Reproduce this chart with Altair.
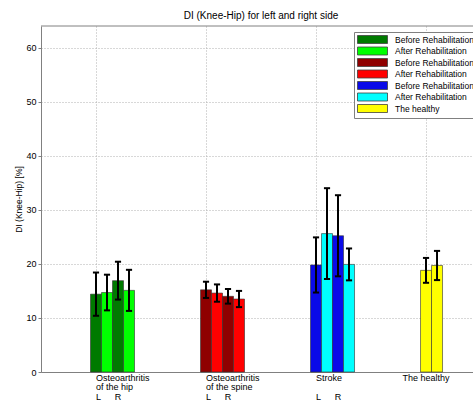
import altair as alt
import pandas as pd

# Bars: series key, x position, mean DI and its deviation
series = ["hip_before", "hip_after", "hip_before", "hip_after",
          "spine_before", "spine_after", "spine_before", "spine_after",
          "stroke_before", "stroke_after", "stroke_before", "stroke_after",
          "healthy", "healthy"]
positions = [1.0, 1.1, 1.2, 1.3,
             2.0, 2.1, 2.2, 2.3,
             3.0, 3.1, 3.2, 3.3,
             4.0, 4.1]
means = [14.4, 14.7, 16.9, 15.1,
         15.2, 14.6, 14.0, 13.5,
         19.8, 25.6, 25.2, 19.9,
         18.8, 19.7]
errors = [4.0, 3.3, 3.5, 3.8,
          1.5, 1.6, 1.35, 1.5,
          5.1, 8.4, 7.5, 2.95,
          2.3, 2.7]

# Legend entries
legend_keys = ["hip_before", "hip_after", "spine_before", "spine_after",
               "stroke_before", "stroke_after", "healthy"]
legend_labels = ["Before Rehabilitation", "After Rehabilitation",
                 "Before Rehabilitation", "After Rehabilitation",
                 "Before Rehabilitation", "After Rehabilitation",
                 "The healthy"]
legend_colors = ["#007A00", "#00FF00", "#8F0000", "#FF0000",
                 "#0A0AE8", "#00FFFF", "#FFFF00"]

# Category captions under the x axis
caption_x = [1.0, 1.0, 1.0, 1.17,
             2.0, 2.0, 2.0, 2.17,
             3.0, 3.0, 3.17,
             4.0]
caption_y = [-1.1, -2.83, -4.56, -4.56,
             -1.1, -2.83, -4.56, -4.56,
             -1.1, -4.56, -4.56,
             -1.1]
caption_text = ["Osteoarthritis", "of the hip", "L", "R",
                "Osteoarthritis", "of the spine", "L", "R",
                "Stroke", "L", "R",
                "The healthy"]
caption_align = ["left"] * 11 + ["center"]

Y_MAX = 64
X_DOMAIN = [0.5, 4.427]

bars_df = pd.DataFrame({"series": series, "pos": positions,
                        "mean": means, "err": errors})
captions_df = pd.DataFrame({"x": caption_x, "y": caption_y,
                            "text": caption_text, "align": caption_align})

FONT = "Liberation Sans"
AXIS_GRAY = "#808080"

x_scale = alt.Scale(domain=X_DOMAIN, nice=False, zero=False)
y_scale = alt.Scale(domain=[0, Y_MAX], nice=False)

label_expr = "[" + ",".join(f"'{l}'" for l in legend_labels) + "][indexof([" + \
    ",".join(f"'{k}'" for k in legend_keys) + "], datum.label)]"

base = alt.Chart(bars_df)

bars = base.transform_calculate(
    x0="datum.pos - 0.05", x1="datum.pos + 0.05", zero="0"
).mark_rect(stroke="#303030", strokeWidth=0.6, opacity=1).encode(
    x=alt.X("x0:Q", scale=x_scale,
            axis=alt.Axis(values=[1, 2, 3, 4], labels=False, ticks=False,
                          title=None, grid=True, gridColor="#b0b0b0",
                          gridDash=[1, 2], domainColor=AXIS_GRAY)),
    x2="x1:Q",
    y=alt.Y("mean:Q", scale=y_scale,
            axis=alt.Axis(values=[0, 10, 20, 30, 40, 50, 60],
                          title="DI (Knee-Hip) [%]", grid=True,
                          gridColor="#b0b0b0", gridDash=[1, 2],
                          tickSize=3, tickColor=AXIS_GRAY,
                          domainColor=AXIS_GRAY, labelPadding=2,
                          titlePadding=2)),
    y2="zero:Q",
    color=alt.Color("series:N",
                    scale=alt.Scale(domain=legend_keys, range=legend_colors),
                    legend=alt.Legend(title=None, orient="none",
                                      legendX=313, legendY=6,
                                      labelExpr=label_expr,
                                      symbolType="M-3.75,-1H3.75V1H-3.75Z",
                                      symbolSize=64,
                                      symbolOffset=11,
                                      labelOffset=18,
                                      symbolStrokeColor="#404040",
                                      symbolStrokeWidth=0.8,
                                      symbolOpacity=1,
                                      labelFont=FONT, labelFontSize=8.5,
                                      labelColor="#000000",
                                      labelLimit=200,
                                      rowPadding=-1.5,
                                      padding=3,
                                      strokeColor="#808080",
                                      fillColor="#ffffff")),
)

whiskers = base.transform_calculate(
    lo="datum.mean - datum.err", hi="datum.mean + datum.err"
).mark_rule(color="black", strokeWidth=2).encode(
    x=alt.X("pos:Q", scale=x_scale),
    y=alt.Y("lo:Q", scale=y_scale),
    y2="hi:Q",
)

caps_lo = base.transform_calculate(
    c0="datum.pos - 0.028", c1="datum.pos + 0.028",
    v="datum.mean - datum.err"
).mark_rule(color="black", strokeWidth=2).encode(
    x=alt.X("c0:Q", scale=x_scale), x2="c1:Q",
    y=alt.Y("v:Q", scale=y_scale),
)

caps_hi = base.transform_calculate(
    c0="datum.pos - 0.028", c1="datum.pos + 0.028",
    v="datum.mean + datum.err"
).mark_rule(color="black", strokeWidth=2).encode(
    x=alt.X("c0:Q", scale=x_scale), x2="c1:Q",
    y=alt.Y("v:Q", scale=y_scale),
)

top_border = alt.Chart(pd.DataFrame({"y": [Y_MAX]})).mark_rule(
    color=AXIS_GRAY, strokeWidth=1
).encode(y=alt.Y("y:Q", scale=y_scale))


def caption_layer(align):
    return alt.Chart(captions_df).transform_filter(
        alt.datum.align == align
    ).mark_text(
        font=FONT, fontSize=9, color="#000000", baseline="middle", align=align
    ).encode(
        x=alt.X("x:Q", scale=x_scale),
        y=alt.Y("y:Q", scale=y_scale),
        text="text:N",
    )


chart = alt.layer(bars, whiskers, caps_lo, caps_hi, top_border,
                  caption_layer("left"), caption_layer("center")).properties(
    width=432,
    height=346,
    autosize=alt.AutoSizeParams(type="none"),
    padding={"left": 41, "top": 26, "right": 0, "bottom": 29},
    title=alt.TitleParams("DI (Knee-Hip) for left and right side",
                          font=FONT, fontSize=10, fontWeight="normal",
                          color="#000000", dx=4, offset=5),
    background="white",
).configure_view(stroke=None).configure_axis(
    labelFont=FONT, labelFontSize=9, labelColor="#000000",
    titleFont=FONT, titleFontSize=8.5, titleFontWeight="normal",
    titleColor="#000000",
)

chart.save("out.html", embed_options={"renderer": "svg", "actions": False})
